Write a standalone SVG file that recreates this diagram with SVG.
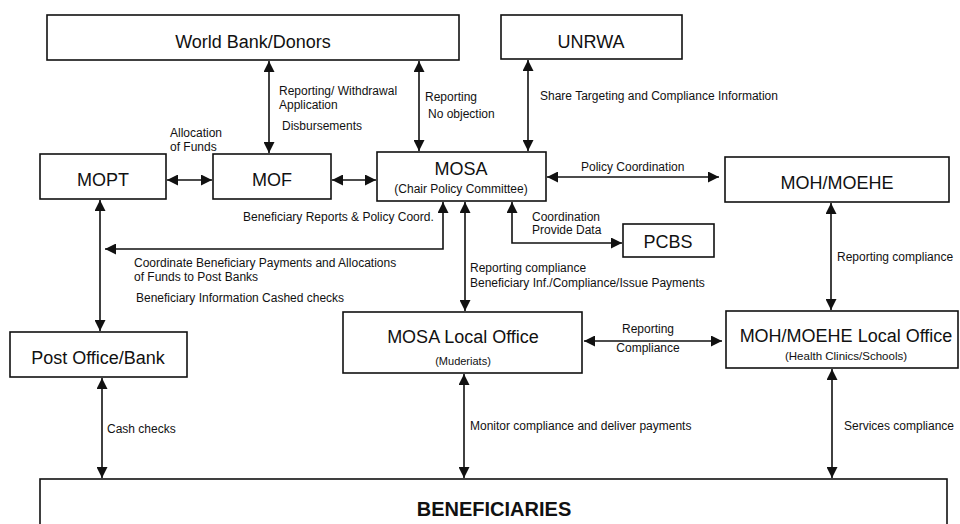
<svg xmlns="http://www.w3.org/2000/svg" width="960" height="524" viewBox="0 0 960 524">
<style>
.box{fill:#fff;stroke:#111;stroke-width:1.6}
.big{font-family:"Liberation Sans",Arial,sans-serif;font-size:18px;fill:#111;text-anchor:middle}
.sub{font-family:"Liberation Sans",Arial,sans-serif;font-size:12px;fill:#111;text-anchor:middle}
.lbl{font-family:"Liberation Sans",Arial,sans-serif;font-size:12px;fill:#111}
.con{fill:none;stroke:#111;stroke-width:1.6;marker-start:url(#ah);marker-end:url(#ah)}
</style>
<defs>
<marker id="ah" viewBox="0 0 11 11" refX="11" refY="5.5" markerWidth="11" markerHeight="11" markerUnits="userSpaceOnUse" orient="auto-start-reverse">
<path d="M0,0 L11,5.5 L0,11 z" fill="#111"/>
</marker>
</defs>
<rect width="960" height="524" fill="#fff"/>

<g id="connectors">
<line class="con" x1="269" y1="61" x2="269" y2="153"/>
<line class="con" x1="419" y1="61" x2="419" y2="151"/>
<line class="con" x1="528" y1="60" x2="528" y2="151"/>
<line class="con" x1="167" y1="180" x2="212" y2="180"/>
<line class="con" x1="332" y1="180" x2="376" y2="180"/>
<line class="con" x1="547" y1="177" x2="719" y2="177"/>
<path class="con" d="M512,202 V243 H622"/>
<path class="con" d="M443,202 V249 H105"/>
<line class="con" x1="465" y1="202" x2="465" y2="311"/>
<line class="con" x1="100" y1="200" x2="100" y2="331"/>
<line class="con" x1="102" y1="378" x2="102" y2="478"/>
<line class="con" x1="464" y1="374" x2="464" y2="478"/>
<line class="con" x1="584" y1="341" x2="722" y2="341"/>
<line class="con" x1="831" y1="203" x2="831" y2="310"/>
<line class="con" x1="832" y1="369" x2="832" y2="478"/>
</g>

<g id="labels">
<text class="lbl" x="279" y="95">Reporting/ Withdrawal</text>
<text class="lbl" x="279" y="109">Application</text>
<text class="lbl" x="282" y="130">Disbursements</text>
<text class="lbl" x="170" y="137">Allocation</text>
<text class="lbl" x="170" y="151">of Funds</text>
<text class="lbl" x="425" y="101">Reporting</text>
<text class="lbl" x="428" y="118">No objection</text>
<text class="lbl" x="540" y="100">Share Targeting and Compliance Information</text>
<text class="lbl" x="581" y="171">Policy Coordination</text>
<text class="lbl" x="532" y="221">Coordination</text>
<text class="lbl" x="532" y="234">Provide Data</text>
<text class="lbl" x="243" y="221">Beneficiary Reports &amp; Policy Coord.</text>
<text class="lbl" x="134" y="267">Coordinate Beneficiary Payments and Allocations</text>
<text class="lbl" x="134" y="281">of Funds to Post Banks</text>
<text class="lbl" x="136" y="302">Beneficiary Information Cashed checks</text>
<text class="lbl" x="470" y="272">Reporting compliance</text>
<text class="lbl" x="470" y="287">Beneficiary Inf./Compliance/Issue Payments</text>
<text class="lbl" x="837" y="261">Reporting compliance</text>
<text class="lbl" x="648" y="333" text-anchor="middle">Reporting</text>
<text class="lbl" x="648" y="352" text-anchor="middle">Compliance</text>
<text class="lbl" x="107" y="433">Cash checks</text>
<text class="lbl" x="470" y="430">Monitor compliance and deliver payments</text>
<text class="lbl" x="844" y="430">Services compliance</text>
</g>

<g id="world-bank">
<rect class="box" x="47" y="15" width="412" height="45"/>
<text class="big" x="253" y="48">World Bank/Donors</text>
</g>
<g id="unrwa">
<rect class="box" x="501" y="15" width="181" height="44"/>
<text class="big" x="591" y="48">UNRWA</text>
</g>
<g id="mopt">
<rect class="box" x="40" y="154" width="126" height="45"/>
<text class="big" x="103" y="186">MOPT</text>
</g>
<g id="mof">
<rect class="box" x="213" y="154" width="118" height="45"/>
<text class="big" x="272" y="186">MOF</text>
</g>
<g id="mosa">
<rect class="box" x="377" y="152" width="169" height="49"/>
<text class="big" x="461" y="175">MOSA</text>
<text class="sub" x="461" y="193">(Chair Policy Committee)</text>
</g>
<g id="moh-moehe">
<rect class="box" x="725" y="157" width="224" height="45"/>
<text class="big" x="837" y="189">MOH/MOEHE</text>
</g>
<g id="pcbs">
<rect class="box" x="623" y="224" width="91" height="33"/>
<text class="big" x="668" y="248">PCBS</text>
</g>
<g id="post-office">
<rect class="box" x="10" y="332" width="177" height="45"/>
<text class="big" x="98" y="364">Post Office/Bank</text>
</g>
<g id="mosa-local">
<rect class="box" x="343" y="312" width="239" height="61"/>
<text class="big" x="463" y="343">MOSA Local Office</text>
<text class="sub" x="463" y="365" style="font-size:11px">(Muderiats)</text>
</g>
<g id="moh-local">
<rect class="box" x="726" y="311" width="232" height="57"/>
<text class="big" x="846" y="342">MOH/MOEHE Local Office</text>
<text class="sub" x="846" y="360" style="font-size:11.5px">(Health Clinics/Schools)</text>
</g>
<g id="beneficiaries">
<rect class="box" x="40" y="479" width="907" height="60"/>
<text class="big" x="494" y="516" style="font-size:20px;font-weight:bold">BENEFICIARIES</text>
</g>
</svg>
